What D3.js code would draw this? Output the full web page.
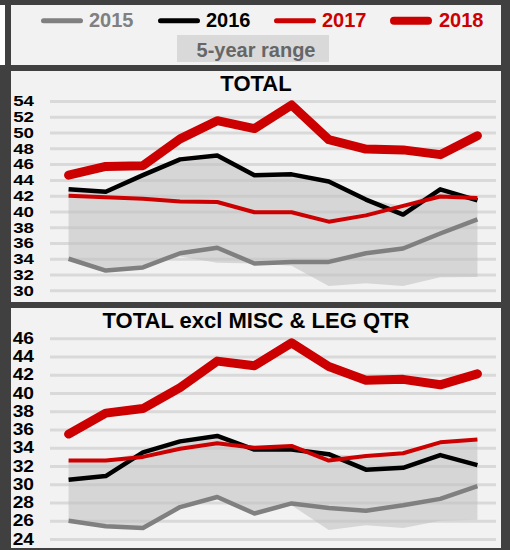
<html>
<head>
<script src="https://cdn.jsdelivr.net/npm/d3@7"></script>
<style>
body { margin: 0; background: #404040; }
svg { display: block; font-family: "Liberation Sans", Arial, sans-serif; }
</style>
</head>
<body>
<script>
var width = 510, height = 550;

var months = ["Jan","Feb","Mar","Apr","May","Jun","Jul","Aug","Sep","Oct","Nov","Dec"];
var years = ["2015","2016","2017","2018"];

// TOTAL
var total2015 = [34.0, 32.5, 32.9, 34.7, 35.4, 33.4, 33.6, 33.6, 34.7, 35.3, 37.2, 39.0];
var total2016 = [42.8, 42.5, 44.6, 46.6, 47.1, 44.6, 44.7, 43.8, 41.5, 39.6, 42.8, 41.4];
var total2017 = [42.0, 41.8, 41.6, 41.25, 41.2, 39.9, 39.9, 38.7, 39.5, 40.7, 41.9, 41.7];
var total2018 = [44.6, 45.7, 45.8, 49.2, 51.5, 50.5, 53.5, 49.1, 47.9, 47.8, 47.2, 49.6];
var totalLow  = [34.0, 32.5, 32.9, 34.3, 33.5, 33.4, 33.1, 30.55, 30.9, 30.55, 31.65, 31.7];
var totalHigh = [42.8, 42.5, 44.6, 46.6, 47.1, 44.6, 44.7, 43.8, 41.5, 40.7, 42.8, 41.7];
var totalTicks = [30,32,34,36,38,40,42,44,46,48,50,52,54];

// TOTAL excl MISC & LEG QTR
var excl2015 = [26.0, 25.4, 25.2, 27.5, 28.6, 26.8, 27.9, 27.4, 27.1, 27.7, 28.4, 29.8];
var excl2016 = [30.5, 30.9, 33.5, 34.7, 35.3, 33.8, 33.8, 33.3, 31.6, 31.8, 33.2, 32.1];
var excl2017 = [32.6, 32.6, 33.0, 33.9, 34.5, 34.0, 34.2, 32.6, 33.1, 33.4, 34.6, 34.9];
var excl2018 = [35.5, 37.8, 38.3, 40.6, 43.5, 43.0, 45.5, 42.9, 41.4, 41.5, 40.9, 42.1];
var exclLow  = [26.0, 25.4, 25.2, 27.5, 28.6, 26.8, 27.7, 25.0, 25.5, 25.2, 26.0, 26.1];
var exclHigh = [32.6, 32.6, 33.5, 34.7, 35.3, 34.0, 34.2, 33.3, 33.1, 33.4, 34.6, 34.9];
var exclTicks = [24,26,28,30,32,34,36,38,40,42,44,46];

var colors = {"2015": "#808080", "2016": "#000000", "2017": "#cc0000", "2018": "#cc0000"};
var widths = {"2015": 4.5, "2016": 4.5, "2017": 4, "2018": 9};

var svg = d3.select("body").append("svg")
    .attr("width", width)
    .attr("height", height);

svg.append("rect").attr("width", width).attr("height", height).attr("fill", "#404040");

// legend panel
svg.append("rect").attr("x", 0).attr("y", 5).attr("width", 5).attr("height", 60).attr("fill", "#ffffff");
svg.append("rect").attr("x", 11).attr("y", 5).attr("width", 490).attr("height", 60).attr("fill", "#f2f2f2");

var legendX = [41, 158, 274, 390];
var legendW = {"2015": 5, "2016": 5, "2017": 5, "2018": 8};
years.forEach(function(yr, i) {
    var x0 = legendX[i];
    svg.append("line")
        .attr("x1", x0 + legendW[yr] / 2).attr("x2", x0 + 42 - legendW[yr] / 2)
        .attr("y1", 20.7).attr("y2", 20.7)
        .attr("stroke", colors[yr])
        .attr("stroke-width", legendW[yr])
        .attr("stroke-linecap", "round");
    svg.append("text")
        .attr("x", x0 + (i == 3 ? 49 : 48)).attr("y", 27)
        .attr("fill", colors[yr])
        .attr("font-size", "20px")
        .attr("font-weight", "bold")
        .text(yr);
});
svg.append("rect").attr("x", 177).attr("y", 35).attr("width", 152).attr("height", 27).attr("fill", "#d9d9d9");
svg.append("text")
    .attr("x", 256).attr("y", 56.5)
    .attr("text-anchor", "middle")
    .attr("fill", "#666666")
    .attr("font-size", "20px")
    .attr("font-weight", "bold")
    .text("5-year range");

function panel(opt) {
    var g = svg.append("g");
    g.append("rect")
        .attr("x", 11).attr("y", opt.top)
        .attr("width", 490).attr("height", opt.bottom - opt.top)
        .attr("fill", "#f2f2f2");

    g.append("text")
        .attr("x", 256).attr("y", opt.titleY)
        .attr("text-anchor", "middle")
        .attr("font-size", "22px")
        .attr("font-weight", "bold")
        .attr("fill", "#000")
        .text(opt.title);

    var x = d3.scalePoint().domain(months).range([50, 496]).padding(0.5);
    var y = d3.scaleLinear().domain(opt.domain).range(opt.yRange);

    // gridlines
    var grid = g.append("g")
        .attr("transform", "translate(50,0)")
        .call(d3.axisRight(y).tickValues(opt.ticks).tickSize(446).tickFormat(""));
    grid.select(".domain").remove();
    grid.selectAll("line").attr("stroke", "#d9d9d9").attr("stroke-width", 3);

    // labels
    var ax = g.append("g")
        .attr("transform", "translate(34,0)")
        .call(d3.axisLeft(y).tickValues(opt.ticks).tickSize(0).tickPadding(0));
    ax.select(".domain").remove();
    ax.selectAll("text")
        .attr("font-family", "Liberation Sans, Arial, sans-serif")
        .attr("font-size", opt.labelSize + "px")
        .attr("font-weight", "bold")
        .attr("fill", "#000")
        .attr("transform", "scale(" + opt.labelStretch + ",1)");

    // 5-year range
    var area = d3.area()
        .x(function(d, i) { return x(months[i]); })
        .y0(function(d, i) { return y(opt.low[i]); })
        .y1(function(d) { return y(d); });
    g.append("path")
        .attr("d", area(opt.high))
        .attr("fill", "#bfbfbf")
        .attr("fill-opacity", 0.55);

    var line = d3.line()
        .x(function(d, i) { return x(months[i]); })
        .y(function(d) { return y(d); });
    years.forEach(function(yr) {
        g.append("path")
            .attr("d", line(opt.series[yr]))
            .attr("fill", "none")
            .attr("stroke", colors[yr])
            .attr("stroke-width", widths[yr])
            .attr("stroke-linejoin", "round")
            .attr("stroke-linecap", yr == "2018" ? "round" : "butt");
    });
}

panel({
    top: 71, bottom: 302, titleY: 91, title: "TOTAL",
    domain: [30, 54], yRange: [290.3, 101], ticks: totalTicks,
    labelSize: 15, labelStretch: 1.25,
    low: totalLow, high: totalHigh,
    series: {"2015": total2015, "2016": total2016, "2017": total2017, "2018": total2018}
});

panel({
    top: 308, bottom: 548, titleY: 328, title: "TOTAL excl MISC & LEG QTR",
    domain: [24, 46], yRange: [539, 338.3], ticks: exclTicks,
    labelSize: 16, labelStretch: 1.2,
    low: exclLow, high: exclHigh,
    series: {"2015": excl2015, "2016": excl2016, "2017": excl2017, "2018": excl2018}
});
</script>
</body>
</html>
